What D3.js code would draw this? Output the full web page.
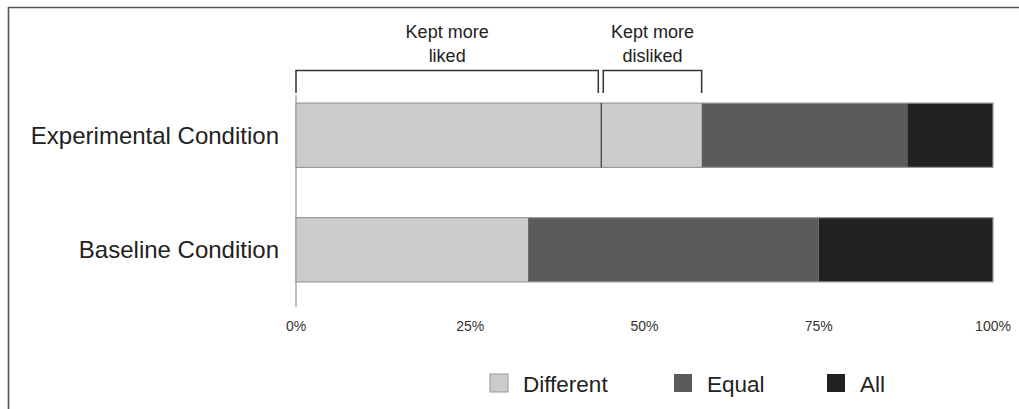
<!DOCTYPE html>
<html><head><meta charset="utf-8">
<script src="https://cdn.jsdelivr.net/npm/d3@7"></script>
<style>body{margin:0;background:#fff}svg{display:block}text{font-family:"Liberation Sans",Arial,sans-serif}</style>
</head><body><svg id="c" width="1019" height="409"></svg>
<script>
const categories = ["Experimental Condition", "Baseline Condition"];
const seriesNames = ["Different", "Equal", "All"];
const diffLiked = [43.8, 33.3];
const diffDisliked = [14.4, 0];
const equalVals = [29.5, 41.7];
const allVals = [12.3, 25.0];
const tickVals = [0, 25, 50, 75, 100];
const tickLabels = ["0%", "25%", "50%", "75%", "100%"];
const bracketLabels = [["Kept more", "liked"], ["Kept more", "disliked"]];
const colors = {Different: "#cccccc", Equal: "#5b5b5b", All: "#222222"};

const svg = d3.select("#c");
const x = d3.scaleLinear().domain([0, 100]).range([296, 993]);
const y = d3.scaleBand().domain(categories).range([78, 307]).paddingInner(0.4386).paddingOuter(0.219);

// frame
svg.append("line").attr("x1", 8).attr("x2", 1019).attr("y1", 7.5).attr("y2", 7.5).attr("stroke", "#555").attr("stroke-width", 1.6);
svg.append("line").attr("x1", 8.5).attr("x2", 8.5).attr("y1", 7).attr("y2", 409).attr("stroke", "#555").attr("stroke-width", 1.6);

// axis line
svg.append("line").attr("x1", x(0)).attr("x2", x(0)).attr("y1", 95).attr("y2", 307).attr("stroke", "#aaa").attr("stroke-width", 1.5);

// segments
const segs = [];
categories.forEach((c, i) => {
  let acc = 0;
  const parts = [
    {k: "Different", v: diffLiked[i], div: false},
    {k: "Different", v: diffDisliked[i], div: true},
    {k: "Equal", v: equalVals[i]},
    {k: "All", v: allVals[i]}
  ];
  parts.forEach(p => { if (p.v > 0) segs.push({c, k: p.k, x0: acc, x1: acc + p.v, div: p.div}); acc += p.v; });
});
svg.selectAll("rect.seg").data(segs).join("rect").attr("class", "seg")
  .attr("x", d => x(d.x0)).attr("width", d => x(d.x1) - x(d.x0))
  .attr("y", d => y(d.c)).attr("height", y.bandwidth())
  .attr("fill", d => colors[d.k]);
categories.forEach(c => {
  svg.append("rect").attr("x", x(0)).attr("y", y(c)).attr("width", x(100) - x(0)).attr("height", y.bandwidth())
    .attr("fill", "none").attr("stroke", "#999").attr("stroke-width", 1.2);
});
svg.selectAll("line.div").data(segs.filter(d => d.div)).join("line").attr("class", "div")
  .attr("x1", d => x(d.x0)).attr("x2", d => x(d.x0)).attr("y1", d => y(d.c)).attr("y2", d => y(d.c) + y.bandwidth())
  .attr("stroke", "#444").attr("stroke-width", 1.3);

// brackets
const b0 = 0, b1 = diffLiked[0], b2 = diffLiked[0] + diffDisliked[0];
const brackets = [{a: x(b0), b: x(b1) - 3}, {a: x(b1) + 2, b: x(b2)}];
brackets.forEach((br, i) => {
  svg.append("path").attr("d", `M${br.a},93V70.5H${br.b}V93`).attr("fill", "none").attr("stroke", "#333").attr("stroke-width", 1.5);
  const t = svg.append("text").attr("text-anchor", "middle").attr("font-size", 18).attr("fill", "#222");
  bracketLabels[i].forEach((s, j) => t.append("tspan").attr("x", (br.a + br.b) / 2).attr("y", 38 + j * 24).text(s));
});

// category labels
svg.selectAll("text.cat").data(categories).join("text").attr("class", "cat")
  .attr("x", 279).attr("y", d => y(d) + y.bandwidth() / 2).attr("dy", "0.36em")
  .attr("text-anchor", "end").attr("font-size", 24).attr("fill", "#222").text(d => d);

// ticks
svg.selectAll("text.tick").data(tickVals).join("text").attr("class", "tick")
  .attr("x", d => x(d)).attr("y", 331).attr("text-anchor", "middle").attr("font-size", 14).attr("fill", "#333")
  .text((d, i) => tickLabels[i]);

// legend
const legX = [490, 674, 827];
seriesNames.forEach((s, i) => {
  svg.append("rect").attr("x", legX[i]).attr("y", 374).attr("width", 18).attr("height", 18)
    .attr("fill", colors[s]).attr("stroke", i === 0 ? "#999" : "none").attr("stroke-width", 1);
  svg.append("text").attr("x", legX[i] + 33).attr("y", 392).attr("font-size", 22.5).attr("fill", "#222").text(s);
});
</script></body></html>
